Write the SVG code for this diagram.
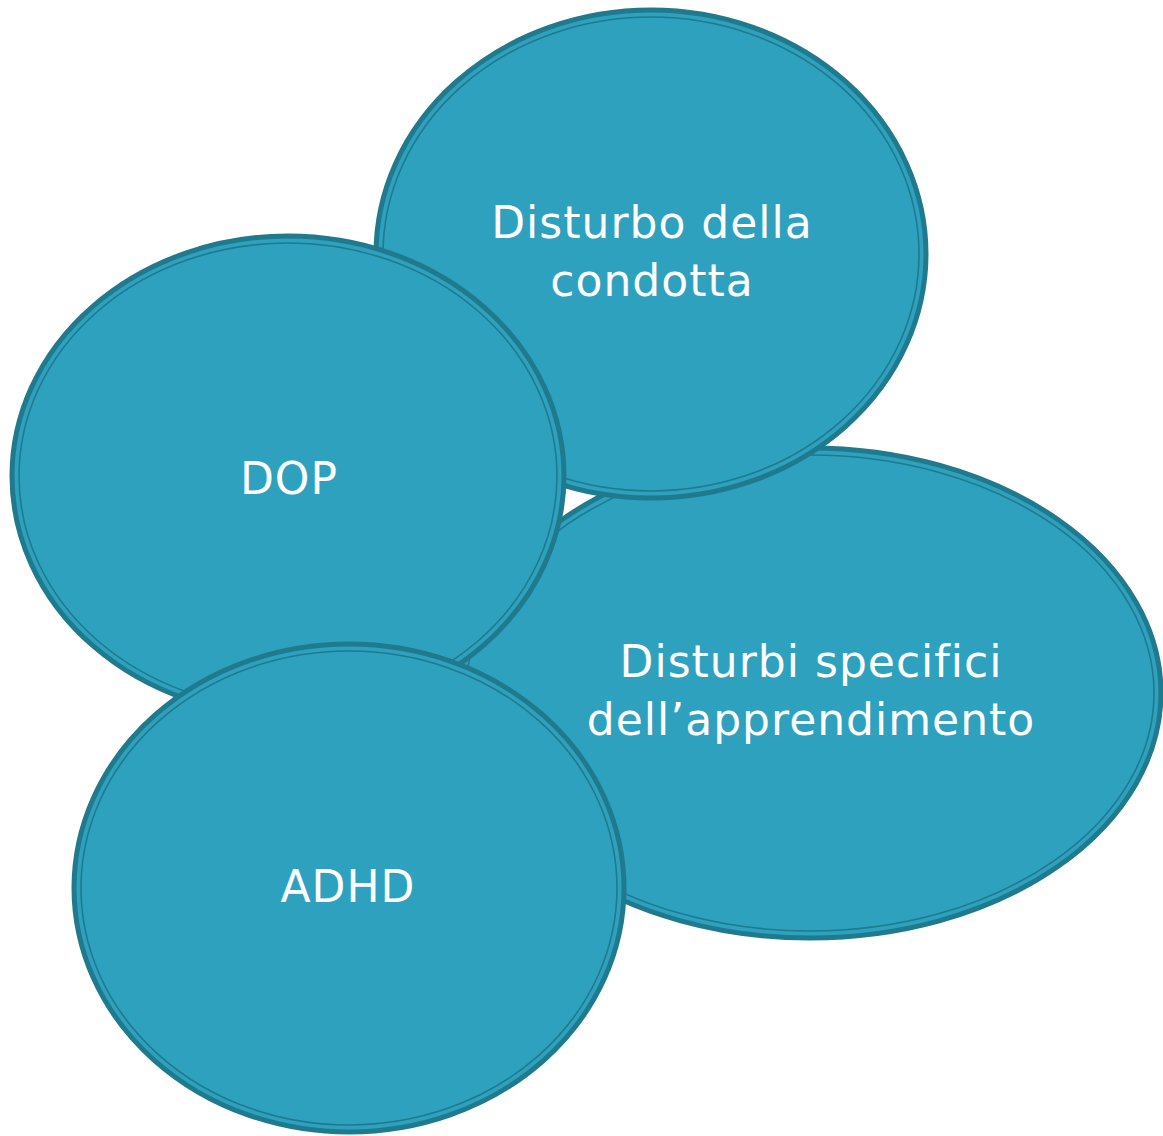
<svg xmlns="http://www.w3.org/2000/svg" width="1163" height="1136" viewBox="0 0 1163 1136">
<style>
.outer{fill:#2ea1bf;stroke:#1f7a8e;stroke-width:5}
.inner{fill:none;stroke:#1f7a8e;stroke-width:1.6}
.lbl{font-family:"DejaVu Sans",Verdana,sans-serif;font-size:44px;fill:#ffffff;text-anchor:middle;letter-spacing:1px}
</style>
<rect width="1163" height="1136" fill="#ffffff"/>
<g id="dsa">
<ellipse class="outer" cx="810" cy="693" rx="351" ry="245"/>
<ellipse class="inner" cx="810" cy="693" rx="344" ry="238"/>
<text class="lbl" x="811" y="677">Disturbi specifici</text>
<text class="lbl" x="811" y="735">dell’apprendimento</text>
</g>
<g id="condotta">
<ellipse class="outer" cx="651" cy="254" rx="275" ry="244"/>
<ellipse class="inner" cx="651" cy="254" rx="268" ry="237"/>
<text class="lbl" x="652" y="238">Disturbo della</text>
<text class="lbl" x="652" y="296">condotta</text>
</g>
<g id="dop">
<ellipse class="outer" cx="288" cy="476" rx="276" ry="240"/>
<ellipse class="inner" cx="288" cy="476" rx="269" ry="233"/>
<text class="lbl" x="289" y="494">DOP</text>
</g>
<g id="adhd">
<ellipse class="outer" cx="349" cy="888" rx="275" ry="244"/>
<ellipse class="inner" cx="349" cy="888" rx="268" ry="237"/>
<text class="lbl" x="348" y="902">ADHD</text>
</g>
<g id="connectors"></g>
</svg>
